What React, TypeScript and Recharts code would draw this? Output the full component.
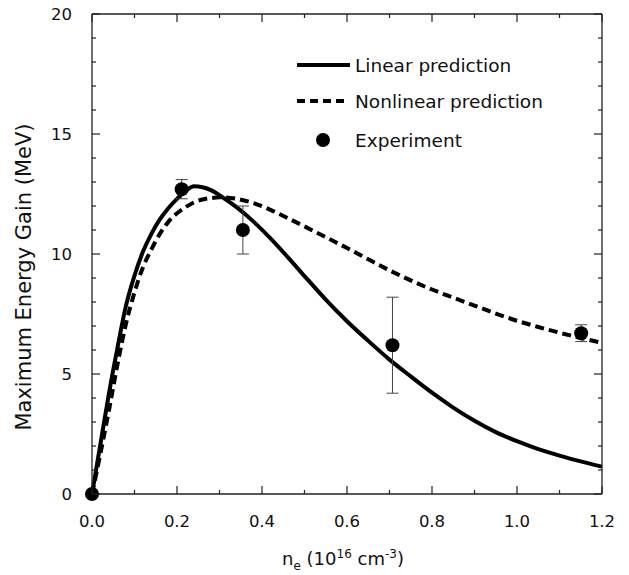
import {
  ComposedChart,
  Line,
  Scatter,
  ErrorBar,
  XAxis,
  YAxis,
  Legend,
  Label,
} from 'recharts'

// electron density (10^16 cm^-3) sample points for both model curves
const densities = [
  0, 0.02, 0.04, 0.06, 0.08, 0.1, 0.12, 0.14, 0.16, 0.18, 0.2, 0.22, 0.24, 0.26, 0.28, 0.3, 0.34, 0.38,
  0.42, 0.46, 0.5, 0.55, 0.6, 0.65, 0.7, 0.75, 0.8, 0.85, 0.9, 0.95, 1.0, 1.05, 1.1, 1.15, 1.2,
]
const linearGain = [
  0, 2.1, 4.2, 6.1, 7.85, 9.1, 10.1, 10.85, 11.45, 11.92, 12.3, 12.62, 12.82, 12.78, 12.66, 12.45, 11.95, 11.35,
  10.65, 9.88, 9.08, 8.1, 7.2, 6.38, 5.6, 4.9, 4.22, 3.6, 3.05, 2.58, 2.2, 1.87, 1.6, 1.36, 1.14,
]
const nonlinearGain = [
  0, 1.7, 3.5, 5.4, 7.1, 8.4, 9.45, 10.2, 10.85, 11.35, 11.7, 11.95, 12.15, 12.27, 12.33, 12.36, 12.3, 12.12,
  11.84, 11.5, 11.15, 10.7, 10.25, 9.78, 9.32, 8.9, 8.52, 8.18, 7.85, 7.52, 7.22, 6.96, 6.72, 6.5, 6.3,
]

// measured points
const expDensity = [0, 0.211, 0.355, 0.707, 1.151]
const expGain = [0, 12.7, 11.0, 6.2, 6.7]
const expError = [0, 0.4, 1.0, 2.0, 0.35]

const xTicks = [0, 0.1, 0.2, 0.3, 0.4, 0.5, 0.6, 0.7, 0.8, 0.9, 1.0, 1.1, 1.2]
const yTicks = [0, 1, 2, 3, 4, 5, 6, 7, 8, 9, 10, 11, 12, 13, 14, 15, 16, 17, 18, 19, 20]

const legendItems = ['Linear prediction', 'Nonlinear prediction', 'Experiment']

const curveRows = densities.map((x, i) => ({ x, lin: linearGain[i], nonlin: nonlinearGain[i] }))
const expRows = expDensity.map((x, i) => ({ x, y: expGain[i], err: expError[i] }))

const FONT = 'DejaVu Sans'
const INK = '#111'
const TICK = '#222'

const isMajorX = (v: number) => Math.round(v * 10) % 2 === 0
const isMajorY = (v: number) => v % 5 === 0

function BottomTick({ x, y, payload }: any) {
  const v = Number(payload.value)
  const px = Number(x)
  const py = Number(y)
  const major = isMajorX(v)
  return (
    <g>
      <path d={`M${px},${py}V${py - (major ? 8 : 4)}`} stroke={TICK} strokeWidth={1.2} fill="none" />
      {major && (
        <text x={px} y={py + 33} textAnchor="middle" fontFamily={FONT} fontSize={16.5} fill={INK}>
          {v.toFixed(1)}
        </text>
      )}
    </g>
  )
}

function TopTick({ x, y, payload }: any) {
  const px = Number(x)
  const py = Number(y)
  const major = isMajorX(Number(payload.value))
  return <path d={`M${px},${py}V${py + (major ? 8 : 4)}`} stroke={TICK} strokeWidth={1.2} fill="none" />
}

function LeftTick({ x, y, payload }: any) {
  const v = Number(payload.value)
  const px = Number(x)
  const py = Number(y)
  const major = isMajorY(v)
  return (
    <g>
      <path d={`M${px},${py}H${px + (major ? 8 : 4)}`} stroke={TICK} strokeWidth={1.2} fill="none" />
      {major && (
        <text x={px - 20} y={py + 6} textAnchor="end" fontFamily={FONT} fontSize={16.5} fill={INK}>
          {v}
        </text>
      )}
    </g>
  )
}

function RightTick({ x, y, payload }: any) {
  const px = Number(x)
  const py = Number(y)
  const major = isMajorY(Number(payload.value))
  return <path d={`M${px},${py}H${px - (major ? 8 : 4)}`} stroke={TICK} strokeWidth={1.2} fill="none" />
}

function YTitle({ viewBox }: any) {
  const cx = viewBox.x + 24
  const cy = viewBox.y + 263
  return (
    <text
      x={cx}
      y={cy}
      transform={`rotate(-90 ${cx} ${cy})`}
      textAnchor="middle"
      dominantBaseline="central"
      fontFamily={FONT}
      fontSize={21}
      fill={INK}
    >
      Maximum Energy Gain (MeV)
    </text>
  )
}

function XTitle({ viewBox }: any) {
  const cx = viewBox.x + viewBox.width / 2 - 4
  const base = viewBox.y + 71
  return (
    <text x={cx} y={base} textAnchor="middle" fontFamily={FONT} fontSize={18} fill={INK}>
      n
      <tspan fontSize={12} dy={5}>e</tspan>
      <tspan dy={-5}> (10</tspan>
      <tspan fontSize={12} dy={-7}>16</tspan>
      <tspan dy={7}> cm</tspan>
      <tspan fontSize={12} dy={-7}>-3</tspan>
      <tspan dy={7}>)</tspan>
    </text>
  )
}

function ChartLegend() {
  const rowY = [25, 61, 100]
  return (
    <svg width={310} height={120} style={{ display: 'block' }}>
      <line x1={17} y1={rowY[0]} x2={70} y2={rowY[0]} stroke="#000" strokeWidth={4} />
      <line x1={17} y1={rowY[1]} x2={64} y2={rowY[1]} stroke="#000" strokeWidth={4} strokeDasharray="8 5" />
      <circle cx={43} cy={rowY[2]} r={7} fill="#000" />
      {legendItems.map((name, i) => (
        <text key={name} x={75} y={rowY[i] + 7} fontFamily={FONT} fontSize={18.5} fill={INK}>
          {name}
        </text>
      ))}
    </svg>
  )
}

const axisLine = { stroke: '#222', strokeWidth: 1.3 }

export default function App() {
  return (
    <div style={{ position: 'absolute', left: 0, top: 0, width: 629, height: 575, background: '#fff' }}>
      <ComposedChart width={629} height={575} data={curveRows} margin={{ top: 13, right: 26, bottom: 0, left: 0 }}>
        <XAxis
          dataKey="x"
          type="number"
          domain={[0, 1.2]}
          ticks={xTicks}
          interval={0}
          height={81}
          tickSize={0}
          tickMargin={0}
          tickLine={false}
          axisLine={axisLine}
          tick={(p: any) => <BottomTick {...p} />}
        >
          <Label content={XTitle} />
        </XAxis>
        <XAxis
          xAxisId="top"
          orientation="top"
          dataKey="x"
          type="number"
          domain={[0, 1.2]}
          allowDataOverflow
          ticks={xTicks}
          interval={0}
          height={1}
          tickSize={0}
          tickMargin={0}
          tickLine={false}
          axisLine={axisLine}
          tick={(p: any) => <TopTick {...p} />}
        />
        <YAxis
          type="number"
          domain={[0, 20]}
          ticks={yTicks}
          interval={0}
          width={92}
          tickSize={0}
          tickMargin={0}
          tickLine={false}
          axisLine={axisLine}
          tick={(p: any) => <LeftTick {...p} />}
        >
          <Label content={YTitle} />
        </YAxis>
        <YAxis
          yAxisId="right"
          orientation="right"
          type="number"
          domain={[0, 20]}
          allowDataOverflow
          ticks={yTicks}
          interval={0}
          width={1}
          tickSize={0}
          tickMargin={0}
          tickLine={false}
          axisLine={axisLine}
          tick={(p: any) => <RightTick {...p} />}
        />
        <Legend
          layout="horizontal"
          verticalAlign="middle"
          align="center"
          wrapperStyle={{ left: 280, top: 40, width: 310 }}
          content={ChartLegend}
        />
        <Line
          dataKey="lin"
          type="monotone"
          stroke="#000"
          strokeWidth={4}
          dot={false}
          isAnimationActive={false}
        />
        <Line
          dataKey="nonlin"
          type="monotone"
          stroke="#000"
          strokeWidth={4}
          strokeDasharray="9 5"
          dot={false}
          isAnimationActive={false}
        />
        <Scatter
          data={expRows}
          dataKey="y"
          fill="#000"
          isAnimationActive={false}
          shape={(p: any) => <circle cx={p.cx} cy={p.cy} r={7} fill="#000" />}
        >
          <ErrorBar dataKey="err" direction="y" width={6} stroke="#444" strokeWidth={1} />
        </Scatter>
      </ComposedChart>
    </div>
  )
}
